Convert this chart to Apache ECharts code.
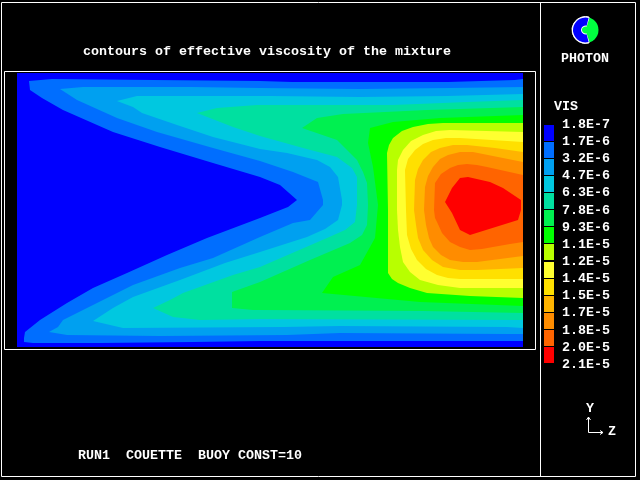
<!DOCTYPE html>
<html>
<head>
<meta charset="utf-8">
<style>html,body{margin:0;padding:0;background:#000}#c{width:640px;height:480px}</style>
<script src="https://cdn.jsdelivr.net/npm/echarts@6/dist/echarts.min.js"></script>
</head>
<body>
<div id="c"></div>
<script>
var titleText = 'contours of effective viscosity of the mixture';
var runText = 'RUN1  COUETTE  BUOY CONST=10';
var varName = 'VIS';
var tickLabels = ['1.8E-7','1.7E-6','3.2E-6','4.7E-6','6.3E-6','7.8E-6','9.3E-6','1.1E-5','1.2E-5','1.4E-5','1.5E-5','1.7E-5','1.8E-5','2.0E-5','2.1E-5'];
var bandColors = ['#0000ff','#006eff','#00a0f0','#00c8e0','#00e0a0','#00f050','#00ff00','#b8ff00','#ffff30','#ffe000','#ffb400','#ff8c00','#ff6400','#ff0000'];
var zRange = [0, 506];
var yRange = [0, 274];

// Contour regions: [z, y] outlines of "value >= level", y measured from the top wall
var level0 = [[0,0],[506,0],[506,274],[0,274]];
var level1 = [[12,8],[35,6],[136,7],[243,8],[275,9],[431,9],[498,7],[506,6],[506,268],[243,268],[176,269],[83,270],[16,270],[7,269],[7,265],[8,259],[23,247],[50,230],[76,215],[110,200],[150,182],[190,165],[243,145],[271,134],[280,127],[263,112],[243,104],[196,90],[143,74],[96,59],[46,37],[25,25],[13,17]];
var level2 = [[43,16],[66,14],[175,14],[243,15],[343,16],[433,15],[506,14],[506,261],[490,261],[323,260],[270,262],[143,263],[50,262],[32,259],[41,254],[46,247],[80,230],[116,212],[163,195],[196,185],[243,164],[276,150],[293,147],[306,132],[306,127],[301,109],[276,99],[243,88],[196,75],[140,59],[100,45],[60,27]];
var level3 = [[100,28],[120,23],[253,23],[343,24],[430,23],[506,21],[506,255],[490,254],[323,253],[266,254],[106,255],[76,248],[96,235],[116,224],[163,207],[208,190],[243,179],[290,164],[308,156],[321,147],[325,132],[325,127],[321,104],[313,94],[300,87],[270,80],[243,76],[196,64],[160,52],[125,40],[116,34]];
var level4 = [[180,40],[200,35],[240,32],[376,32],[450,29],[506,27],[506,247],[243,246],[183,247],[156,244],[136,235],[153,227],[166,220],[216,202],[243,194],[310,165],[328,157],[338,149],[340,132],[340,104],[335,95],[320,84],[286,75],[243,63],[216,54]];
var level5 = [[285,55],[300,45],[326,41],[410,37],[506,34],[506,240],[406,238],[243,237],[236,237],[215,235],[215,219],[243,209],[293,187],[333,170],[345,162],[350,152],[351,132],[350,110],[346,99],[340,87],[320,67]];
var level6 = [[353,55],[376,49],[423,45],[506,42],[506,233],[403,229],[305,220],[316,204],[343,192],[358,165],[361,132],[356,94],[351,70]];
var level7 = [[396,54],[411,51],[426,50],[506,50],[506,225],[453,223],[410,220],[393,215],[381,210],[375,206],[371,200],[371,180],[371,137],[370,80],[372,72],[376,65],[385,58]];
var level8 = [[406,62],[419,58],[433,57],[506,59],[506,215],[443,215],[421,212],[403,207],[393,199],[386,189],[383,174],[381,157],[380,137],[380,97],[381,87],[386,77],[394,68]];
var level9 = [[416,67],[429,65],[443,65],[506,69],[506,206],[443,206],[431,205],[420,202],[409,196],[400,187],[394,176],[390,162],[389,137],[388,97],[391,86],[398,77],[406,71]];
var level10 = [[423,75],[436,72],[450,72],[478,75],[506,79],[506,195],[483,196],[460,197],[443,197],[426,194],[415,187],[406,177],[401,165],[399,152],[397,137],[398,107],[401,96],[406,87],[414,79]];
var level11 = [[431,82],[443,79],[456,79],[481,84],[506,89],[506,183],[483,186],[460,189],[446,189],[433,187],[424,182],[416,174],[412,165],[409,152],[407,137],[408,114],[411,103],[416,94],[423,86]];
var level12 = [[450,91],[460,92],[470,94],[488,98],[506,102],[506,169],[493,171],[476,174],[465,176],[453,177],[443,174],[433,169],[425,160],[420,149],[418,145],[417,137],[418,110],[424,101],[433,95],[441,92]];
var level13 = [[443,105],[451,104],[473,109],[486,115],[504,127],[504,137],[501,147],[453,162],[443,157],[435,140],[428,129],[435,115]];
var contours = [level0,level1,level2,level3,level4,level5,level6,level7,level8,level9,level10,level11,level12,level13];

var font = 'bold 13.33px "Liberation Mono"';
function label(x, y, s, align) {
  return {type:'text', x:x, y:y, silent:true, style:{text:s, fill:'#fff', font:font, textAlign:align||'left', textVerticalAlign:'middle'}};
}
function frame(x, y, w, h) {
  return {type:'rect', shape:{x:x,y:y,width:w,height:h}, silent:true, style:{fill:'none', stroke:'#fff', lineWidth:1}};
}
function wire(points) {
  return {type:'polyline', shape:{points:points}, silent:true, style:{fill:'none', stroke:'#fff', lineWidth:1}};
}
function logoArc(cx, cy, r, a, b, color, width) {
  return {type:'arc', silent:true, shape:{cx:cx,cy:cy,r:r,startAngle:a*Math.PI,endAngle:b*Math.PI,clockwise:true}, style:{fill:'none', stroke:color, lineWidth:width}};
}

var graphics = [
  frame(1.5,2.5,634,474),
  wire([[540.5,2],[540.5,476]]),
  frame(4.5,71.5,531,278),
  label(83,52,titleText),
  label(78,456,runText),
  label(554,107,varName),
  label(585,59,'PHOTON','center'),
  label(590,409,'Y','center'),
  label(612,432,'Z','center'),
  wire([[588.5,417],[588.5,432.5],[603,432.5]]),
  wire([[586.5,420],[588.5,417],[590.5,420]]),
  wire([[600,430.5],[603,432.5],[600,434.5]]),
  // logo
  {type:'circle', shape:{cx:585.5,cy:30,r:13}, silent:true, style:{fill:'#00ff40', stroke:null}},
  logoArc(585.5,30,13.5,0.42,1.58,'#fff',1),
  logoArc(585.5,30,8.5,0.4,1.6,'#fff',10),
  logoArc(585.5,30,8.5,0.42,1.58,'#0000ff',8)
];
tickLabels.forEach(function (t, i) {
  graphics.push(label(562, 124.5 + i * 17.14, t));
});
bandColors.forEach(function (c, i) {
  graphics.push({type:'rect', silent:true, shape:{x:544, y:Math.round(125 + i * 17.07), width:10, height:16}, style:{fill:c}});
});

var chart = echarts.init(document.getElementById('c'), null, {renderer:'canvas', width:640, height:480});
chart.setOption({
  backgroundColor:'#000',
  animation:false,
  grid:{left:17, top:73, width:506, height:274, show:false},
  xAxis:{type:'value', min:zRange[0], max:zRange[1], show:false},
  yAxis:{type:'value', min:yRange[0], max:yRange[1], inverse:true, show:false},
  graphic:{elements:graphics},
  series:[{
    type:'custom',
    coordinateSystem:'cartesian2d',
    silent:true,
    clip:true,
    data:contours.map(function (c, i) { return [i]; }),
    encode:{x:[], y:[]},
    renderItem:function (params, api) {
      var i = api.value(0);
      return {
        type:'polygon',
        shape:{points:contours[i].map(function (p) { return api.coord(p); })},
        style:{fill:bandColors[i], stroke:null}
      };
    }
  }]
});
</script>
</body>
</html>
